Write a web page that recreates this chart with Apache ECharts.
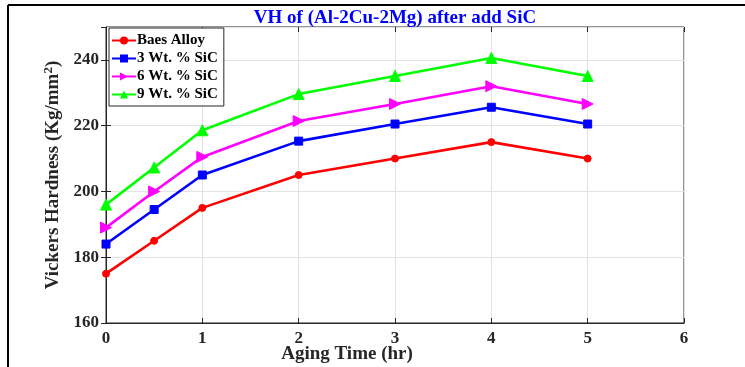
<!DOCTYPE html>
<html>
<head>
<meta charset="utf-8">
<script src="https://cdn.jsdelivr.net/npm/echarts@6/dist/echarts.min.js"></script>
<style>
  html, body { margin: 0; padding: 0; background: #fff; }
  #chart { width: 745px; height: 367px; }
</style>
</head>
<body>
<div id="chart"></div>
<script>
const agingTime = [0, 0.5, 1, 2, 3, 4, 5];
const baseAlloy = [175, 185, 195, 205, 210, 215, 210];
const sic3 = [184, 194.5, 205, 215.3, 220.5, 225.6, 220.5];
const sic6 = [189, 200, 210.5, 221.4, 226.6, 232, 226.6];
const sic9 = [196, 207.3, 218.6, 229.6, 235.1, 240.6, 235.1];
const seriesNames = ["Baes Alloy", "3 Wt. % SiC", "6 Wt. % SiC", "9 Wt. % SiC"];

const font = "'Liberation Serif', 'Times New Roman', serif";
const chart = echarts.init(document.getElementById("chart"), null, { renderer: "canvas" });

function pairs(values) {
  return agingTime.map((t, i) => [t, values[i]]);
}

function lineSeries(name, values, color, symbol, size, rotate) {
  return {
    name,
    type: "line",
    data: pairs(values),
    symbol,
    symbolSize: size,
    symbolRotate: rotate || 0,
    showAllSymbol: true,
    lineStyle: { width: 2.6, color },
    itemStyle: { color, borderColor: color },
    emphasis: { disabled: true },
    z: 3
  };
}

const axisText = { color: "#262626", fontFamily: font, fontWeight: "bold", fontSize: 17 };
const tickStyle = { inside: true, length: 5, lineStyle: { color: "#262626" } };

chart.setOption({
  animation: false,
  title: {
    text: "VH of (Al-2Cu-2Mg) after add SiC",
    left: 390,
    textAlign: "center",
    top: 4,
    textStyle: { color: "#0000ff", fontFamily: font, fontWeight: "bold", fontSize: 19 }
  },
  grid: {
    left: 106, right: 61, top: 27, bottom: 44,
    containLabel: false, outerBoundsMode: "none",
    show: true, borderColor: "#262626", borderWidth: 1
  },
  legend: {
    orient: "vertical",
    left: 109,
    top: 28,
    itemWidth: 24,
    itemHeight: 10,
    itemGap: 3,
    padding: [5, 6, 4, 2],
    backgroundColor: "#fff",
    borderColor: "#262626",
    borderWidth: 1,
    data: seriesNames,
    textStyle: { color: "#000", fontFamily: font, fontWeight: "bold", fontSize: 15, padding: [0, 0, 0, -4] }
  },
  xAxis: [
    {
      type: "value",
      min: 0,
      max: 6,
      interval: 1,
      name: "Aging Time (hr)",
      nameLocation: "middle",
      nameGap: 22,
      nameMoveOverlap: false,
      nameTextStyle: { color: "#262626", fontFamily: font, fontWeight: "bold", fontSize: 19, padding: [0, 96, 0, 0] },
      axisLine: { lineStyle: { color: "#262626" } },
      axisTick: tickStyle,
      axisLabel: Object.assign({ margin: 7 }, axisText),
      splitLine: { lineStyle: { color: "#e3e3e3" } }
    },
    {
      type: "value",
      position: "top",
      min: 0,
      max: 6,
      interval: 1,
      axisLine: { show: false },
      axisTick: tickStyle,
      axisLabel: { show: false },
      splitLine: { show: false }
    }
  ],
  yAxis: [
    {
      type: "value",
      min: 160,
      max: 250,
      interval: 20,
      name: "Vickers Hardness (Kg/mm{sup|2})",
      nameLocation: "middle",
      nameGap: 42,
      nameMoveOverlap: false,
      nameTextStyle: {
        color: "#262626", fontFamily: font, fontWeight: "bold", fontSize: 19,
        rich: { sup: { fontFamily: font, fontWeight: "bold", fontSize: 13, color: "#262626", verticalAlign: "top", padding: [0, 0, 9, 0] } }
      },
      axisLine: { show: true, lineStyle: { color: "#262626" } },
      axisTick: tickStyle,
      axisLabel: Object.assign({ margin: 7, showMaxLabel: false }, axisText),
      splitLine: { lineStyle: { color: "#e3e3e3" } }
    },
    {
      type: "value",
      position: "right",
      min: 160,
      max: 250,
      interval: 20,
      axisLine: { show: false },
      axisTick: tickStyle,
      axisLabel: { show: false },
      splitLine: { show: false }
    }
  ],
  graphic: [
    { type: "line", shape: { x1: 8, y1: 5, x2: 745, y2: 5 }, style: { stroke: "#000", lineWidth: 2 } },
    { type: "line", shape: { x1: 8, y1: 5, x2: 8, y2: 367 }, style: { stroke: "#000", lineWidth: 2 } }
  ],
  series: [
    lineSeries(seriesNames[0], baseAlloy, "#ff0000", "circle", 7),
    lineSeries(seriesNames[1], sic3, "#0000ff", "rect", 8),
    lineSeries(seriesNames[2], sic6, "#ff00ff", "triangle", 11, -90),
    lineSeries(seriesNames[3], sic9, "#00ff00", "triangle", 11)
  ]
});
</script>
</body>
</html>
